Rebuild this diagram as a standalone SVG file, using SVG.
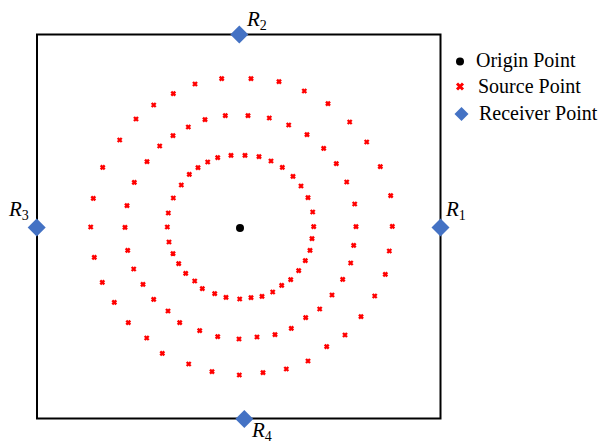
<svg xmlns="http://www.w3.org/2000/svg" xmlns:xlink="http://www.w3.org/1999/xlink" width="600" height="443" viewBox="0 0 600 443">
<style>
.frame{fill:none;stroke:#000;stroke-width:2}
.rcv{fill:#4472C4}
.lbl{font-family:"Liberation Serif",serif;font-style:italic;font-size:21px;fill:#000}
.sub{font-style:normal;font-size:14px}
.leg{font-family:"Liberation Serif",serif;font-size:20px;fill:#000}
.src{fill:none;stroke:#FF0000;stroke-width:2.4}
</style>
<defs>
<path id="x" class="src" d="M-2,-2L2,2M-2,2L2,-2"/>
<path id="dm" class="rcv" d="M0,-9L9,0L0,9L-9,0Z"/>
</defs>
<g id="frame"><rect class="frame" x="37" y="34.5" width="403.5" height="384"/></g>
<g id="origin"><circle cx="240" cy="228" r="4" fill="#000"/></g>
<g id="sources">
<use href="#x" x="231" y="155.3"/><use href="#x" x="245" y="155.3"/><use href="#x" x="259" y="156.7"/><use href="#x" x="271" y="161"/><use href="#x" x="282.3" y="167.3"/><use href="#x" x="293" y="176.3"/><use href="#x" x="301" y="186"/><use href="#x" x="308" y="197.7"/><use href="#x" x="312.7" y="212"/><use href="#x" x="313.7" y="226.7"/><use href="#x" x="312" y="238.7"/><use href="#x" x="310" y="250.3"/><use href="#x" x="305.3" y="260.7"/><use href="#x" x="298.7" y="270.7"/><use href="#x" x="290.7" y="279.7"/><use href="#x" x="281.7" y="285.3"/><use href="#x" x="272.7" y="292"/><use href="#x" x="262" y="296.3"/><use href="#x" x="251" y="297.7"/><use href="#x" x="239.7" y="299"/><use href="#x" x="226" y="297.3"/><use href="#x" x="214.7" y="293.7"/><use href="#x" x="202.3" y="288.7"/><use href="#x" x="194.7" y="281"/><use href="#x" x="185.7" y="273.3"/><use href="#x" x="178.7" y="263.7"/><use href="#x" x="173" y="253.7"/><use href="#x" x="169" y="242"/><use href="#x" x="167.3" y="227"/><use href="#x" x="168.3" y="213"/><use href="#x" x="173.3" y="198"/><use href="#x" x="181.3" y="185"/><use href="#x" x="189.3" y="174.3"/><use href="#x" x="198" y="167.7"/><use href="#x" x="207.7" y="162"/><use href="#x" x="217.7" y="157.7"/>
<use href="#x" x="225.3" y="115.7"/><use href="#x" x="248" y="115.7"/><use href="#x" x="269.3" y="118"/><use href="#x" x="288.7" y="125"/><use href="#x" x="307" y="134.7"/><use href="#x" x="323.7" y="148.3"/><use href="#x" x="336.3" y="163.7"/><use href="#x" x="346.7" y="182"/><use href="#x" x="354.7" y="204"/><use href="#x" x="356" y="226.7"/><use href="#x" x="353.7" y="245.3"/><use href="#x" x="350.7" y="263"/><use href="#x" x="342.7" y="279.3"/><use href="#x" x="332" y="295"/><use href="#x" x="319.7" y="309"/><use href="#x" x="305.7" y="317.7"/><use href="#x" x="291.3" y="328.3"/><use href="#x" x="275" y="334.7"/><use href="#x" x="257" y="337"/><use href="#x" x="239" y="339"/><use href="#x" x="217.7" y="336.7"/><use href="#x" x="199.7" y="330.7"/><use href="#x" x="179.7" y="322.7"/><use href="#x" x="168" y="311"/><use href="#x" x="153.7" y="299.3"/><use href="#x" x="143" y="284.3"/><use href="#x" x="133.7" y="269"/><use href="#x" x="127.7" y="250.3"/><use href="#x" x="125" y="227.3"/><use href="#x" x="127" y="205.7"/><use href="#x" x="134.3" y="182.3"/><use href="#x" x="147" y="161.7"/><use href="#x" x="159.7" y="146"/><use href="#x" x="173" y="135.7"/><use href="#x" x="188.3" y="127"/><use href="#x" x="205" y="119.7"/>
<use href="#x" x="221.7" y="78.7"/><use href="#x" x="251" y="78.7"/><use href="#x" x="279" y="81.7"/><use href="#x" x="304.3" y="91"/><use href="#x" x="328" y="103.7"/><use href="#x" x="349.7" y="122"/><use href="#x" x="366.7" y="142"/><use href="#x" x="380.3" y="166.7"/><use href="#x" x="390.7" y="195.7"/><use href="#x" x="392.3" y="226.3"/><use href="#x" x="389.3" y="251"/><use href="#x" x="385.3" y="274.3"/><use href="#x" x="374.7" y="296"/><use href="#x" x="361" y="316.7"/><use href="#x" x="345" y="335"/><use href="#x" x="326.7" y="346.7"/><use href="#x" x="308" y="361"/><use href="#x" x="286.3" y="369"/><use href="#x" x="263" y="372.7"/><use href="#x" x="239.3" y="375"/><use href="#x" x="212" y="371.7"/><use href="#x" x="188.7" y="364"/><use href="#x" x="162.3" y="353.3"/><use href="#x" x="146.7" y="338"/><use href="#x" x="128.3" y="322.7"/><use href="#x" x="114.3" y="302.3"/><use href="#x" x="102.3" y="282.3"/><use href="#x" x="94.3" y="257.3"/><use href="#x" x="90.7" y="227"/><use href="#x" x="93.3" y="198.3"/><use href="#x" x="102.7" y="167.3"/><use href="#x" x="119.7" y="140"/><use href="#x" x="136" y="119"/><use href="#x" x="153.7" y="105"/><use href="#x" x="173.3" y="93.7"/><use href="#x" x="195" y="84"/>
</g>
<g id="R1"><use href="#dm" x="440.5" y="227.5"/><text class="lbl" x="446" y="216">R<tspan class="sub" dy="4">1</tspan></text></g>
<g id="R2"><use href="#dm" x="239.3" y="34.5"/><text class="lbl" x="247" y="26">R<tspan class="sub" dy="4">2</tspan></text></g>
<g id="R3"><use href="#dm" x="36.7" y="227.5"/><text class="lbl" x="9" y="216">R<tspan class="sub" dy="4">3</tspan></text></g>
<g id="R4"><use href="#dm" x="244.3" y="419"/><text class="lbl" x="252" y="437">R<tspan class="sub" dy="3.5">4</tspan></text></g>
<g id="legend">
<circle cx="460" cy="61.5" r="4" fill="#000"/>
<text class="leg" x="476" y="67">Origin Point</text>
<path d="M457,83.5L463,89.5M457,89.5L463,83.5" fill="none" stroke="#FF0000" stroke-width="3"/>
<text class="leg" x="478" y="93">Source Point</text>
<path class="rcv" d="M461.5,107L468.5,114L461.5,121L454.5,114Z"/>
<text class="leg" x="479" y="120">Receiver Point</text>
</g>
</svg>
